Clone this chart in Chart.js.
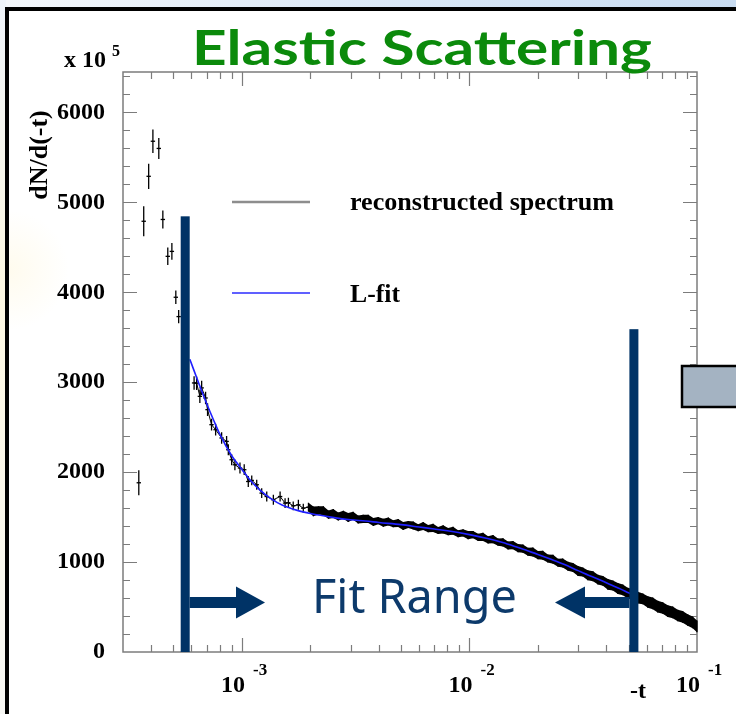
<!DOCTYPE html>
<html>
<head>
<meta charset="utf-8">
<title>Elastic Scattering</title>
<script src="https://cdn.jsdelivr.net/npm/chart.js@4.4.0/dist/chart.umd.min.js"></script>
<style>
  html, body { margin: 0; padding: 0; background: #fff; }
  #wrap { position: relative; width: 736px; height: 714px; }
</style>
</head>
<body>
<div id="wrap"><canvas id="elastic" width="736" height="714"></canvas></div>
<script>
// tick values
const yTickValues = [0, 1000, 2000, 3000, 4000, 5000, 6000];
const xTickValues = [1e-3, 1e-2, 1e-1];
const xTickExps = ['-3', '-2', '-1'];

// sparse points below the fit range (-t, counts in units of 10^5, error)
const preX   = [3.52e-4, 3.70e-4, 3.89e-4, 4.06e-4, 4.31e-4, 4.49e-4, 4.72e-4, 4.92e-4, 5.12e-4, 5.27e-4];
const preY   = [1882, 4790, 5290, 5680, 5600, 4810, 4400, 4455, 3945, 3730];
const preErr = [140, 167, 140, 130, 117, 100, 97, 93, 74, 74];

// reconstructed spectrum
const specX = [
  6.16e-4, 6.32e-4, 6.53e-4, 6.65e-4, 6.92e-4, 7.06e-4, 7.35e-4, 7.66e-4, 8.14e-4, 8.56e-4,
  8.71e-4, 9.01e-4, 9.31e-4, 9.80e-4, 1.023e-3, 1.066e-3, 1.104e-3, 1.161e-3, 1.221e-3, 1.285e-3,
  1.374e-3, 1.471e-3, 1.547e-3,
  1.60e-3, 1.68e-3, 1.77e-3, 1.86e-3, 1.96e-3, 2.06e-3, 2.17e-3, 2.28e-3, 2.40e-3, 2.52e-3,
  2.65e-3, 2.79e-3, 2.93e-3, 3.08e-3, 3.24e-3, 3.41e-3, 3.59e-3, 3.78e-3, 3.97e-3, 4.18e-3,
  4.40e-3, 4.62e-3, 4.86e-3, 5.11e-3, 5.38e-3, 5.66e-3, 5.95e-3, 6.26e-3, 6.58e-3, 6.92e-3,
  7.28e-3, 7.66e-3, 8.06e-3, 8.47e-3, 8.91e-3, 9.37e-3, 9.86e-3, 1.037e-2, 1.091e-2, 1.147e-2,
  1.207e-2, 1.269e-2, 1.335e-2, 1.404e-2, 1.477e-2, 1.553e-2, 1.634e-2, 1.718e-2, 1.807e-2, 1.901e-2,
  2.00e-2, 2.10e-2, 2.21e-2, 2.33e-2, 2.45e-2, 2.57e-2, 2.71e-2, 2.85e-2, 3.00e-2, 3.15e-2,
  3.31e-2, 3.49e-2, 3.67e-2, 3.86e-2, 4.06e-2, 4.27e-2, 4.49e-2, 4.72e-2, 4.96e-2, 5.22e-2,
  5.49e-2, 5.78e-2, 6.08e-2, 6.39e-2, 6.72e-2, 7.07e-2, 7.44e-2, 7.82e-2, 8.23e-2, 8.65e-2,
  9.10e-2, 9.57e-2, 1.00e-1
];
const specY = [
  2992, 2990, 2843, 2937, 2825, 2695, 2528, 2472, 2380, 2342,
  2249, 2138, 2082, 2046, 2027, 1896, 1908, 1860, 1767, 1729,
  1693, 1729, 1656,
  1660, 1625, 1637, 1599, 1611, 1564, 1575, 1572, 1528, 1540,
  1506, 1527, 1497, 1515, 1473, 1480, 1480, 1446, 1462, 1437,
  1451, 1426, 1435, 1402, 1418, 1407, 1382, 1402, 1372, 1380,
  1351, 1364, 1339, 1348, 1315, 1324, 1300, 1306, 1274, 1280,
  1246, 1255, 1222, 1219, 1184, 1189, 1155, 1150, 1115, 1111,
  1077, 1075, 1039, 1031, 993, 989, 954, 941, 900, 890,
  854, 843, 805, 791, 752, 740, 706, 691, 655, 640,
  604, 590, 556, 541, 505, 489, 454, 440, 406, 391,
  356, 330, 285
];
const specErr = [
  75, 75, 75, 80, 70, 70, 65, 65, 65, 60,
  60, 60, 60, 60, 60, 60, 55, 55, 55, 55,
  55, 55, 55,
  55, 50, 55, 50, 50, 55, 45, 50, 45, 50,
  45, 45, 50, 45, 45, 45, 45, 45, 40, 45,
  45, 40, 45, 45, 40, 45, 40, 45, 40, 45,
  40, 45, 40, 45, 40, 40, 45, 40, 40, 45,
  40, 45, 40, 45, 45, 45, 45, 45, 45, 50,
  45, 50, 45, 50, 45, 50, 50, 50, 55, 50,
  55, 55, 55, 55, 60, 55, 60, 60, 60, 60,
  65, 60, 65, 65, 65, 65, 65, 65, 65, 65,
  65, 65, 65
];

// L-fit curve
const fitX = [5.9e-4, 6.5e-4, 7.0e-4, 7.5e-4, 8.0e-4, 9.0e-4, 1.0e-3, 1.1e-3, 1.2e-3, 1.35e-3,
              1.5e-3, 1.75e-3, 2.0e-3, 2.5e-3, 3.0e-3, 3.5e-3, 4.0e-3, 5.0e-3, 6.0e-3, 7.0e-3,
              8.0e-3, 1.0e-2, 1.2e-2, 1.4e-2, 1.6e-2, 1.8e-2, 2.0e-2, 2.3e-2, 2.6e-2, 3.0e-2,
              3.4e-2, 3.8e-2, 4.2e-2, 4.6e-2, 5.0e-2, 5.3e-2];
const fitY = [3255, 2970, 2760, 2580, 2420, 2185, 2030, 1895, 1800, 1700,
              1635, 1575, 1540, 1497, 1470, 1456, 1440, 1416, 1390, 1368,
              1348, 1305, 1262, 1218, 1170, 1125, 1085, 1028, 975, 905,
              845, 795, 745, 702, 658, 628];

// fit range limits (-t) and how high the marker bars reach
const fitLow = 5.63e-4;
const fitHigh = 5.28e-2;
const fitBarTop = [4845, 3590];

const navy = '#003366';
const serif = '"Liberation Serif", "Times New Roman", serif';

function pts(xs, ys) {
  return xs.map((v, i) => ({ x: v, y: ys[i] }));
}

// band only where the histogram bins merge into a solid trace
const bandStart = 1.9e-3;
const upper = [], lower = [];
specX.forEach((v, i) => {
  if (v < bandStart) return;
  upper.push({ x: v, y: specY[i] + specErr[i] });
  lower.push({ x: v, y: specY[i] - specErr[i] });
});

function fitText(ctx, text, x, y, width, font) {
  ctx.save();
  ctx.font = font;
  const w = ctx.measureText(text).width;
  ctx.translate(x, y);
  ctx.scale(width / w, 1);
  ctx.fillText(text, 0, 0);
  ctx.restore();
}

// slide background, frame and white panel
const backdrop = {
  id: 'backdrop',
  beforeDraw(chart) {
    const ctx = chart.ctx;
    ctx.save();
    const g = ctx.createLinearGradient(0, 0, 736, 0);
    g.addColorStop(0, '#f4f7fb');
    g.addColorStop(0.55, '#d9e7f6');
    g.addColorStop(1, '#c9dcf1');
    ctx.fillStyle = g;
    ctx.fillRect(0, 0, 736, 714);
    const gl = ctx.createLinearGradient(0, 0, 0, 714);
    gl.addColorStop(0, '#eef3fa');
    gl.addColorStop(0.4, '#fdf8e2');
    gl.addColorStop(1, '#f7f7f4');
    ctx.fillStyle = gl;
    ctx.fillRect(0, 0, 6, 714);
    ctx.fillStyle = '#000';
    ctx.fillRect(5, 7, 731, 4);
    ctx.fillRect(5, 7, 4, 707);
    ctx.fillStyle = '#fff';
    ctx.fillRect(9, 11, 727, 703);
    const glow = ctx.createRadialGradient(9, 270, 2, 9, 270, 60);
    glow.addColorStop(0, 'rgba(255,238,180,0.22)');
    glow.addColorStop(1, 'rgba(255,238,180,0)');
    ctx.fillStyle = glow;
    ctx.fillRect(9, 200, 70, 140);
    ctx.restore();
  }
};

// ROOT style frame with inward ticks
const frame = {
  id: 'frame',
  beforeDatasetsDraw(chart) {
    const { ctx, chartArea: a, scales: { x, y } } = chart;
    ctx.save();
    ctx.strokeStyle = '#7c7c7c';
    ctx.lineWidth = 1.5;
    ctx.strokeRect(a.left, a.top, a.right - a.left, a.bottom - a.top);
    ctx.lineWidth = 1.2;
    ctx.beginPath();
    for (let v = 200; v < 6450; v += 200) {
      const py = Math.round(y.getPixelForValue(v)) + 0.5;
      const len = v % 1000 === 0 ? 14 : 7;
      ctx.moveTo(a.left, py); ctx.lineTo(a.left + len, py);
      ctx.moveTo(a.right, py); ctx.lineTo(a.right - len, py);
    }
    for (let e = -4; e <= -2; e++) {
      for (let m = 1; m <= 9; m++) {
        const v = m * Math.pow(10, e);
        if (v < 3.01e-4 || v > 0.0999) continue;
        const px = Math.round(x.getPixelForValue(v)) + 0.5;
        const len = m === 1 ? 14 : 7;
        ctx.moveTo(px, a.bottom); ctx.lineTo(px, a.bottom - len);
        ctx.moveTo(px, a.top); ctx.lineTo(px, a.top + len);
      }
    }
    ctx.stroke();
    ctx.restore();
  }
};

// vertical error bars for datasets that carry an errors array
const errorBars = {
  id: 'errorBars',
  afterDatasetDraw(chart, args) {
    const ds = chart.data.datasets[args.index];
    if (!ds.errors) return;
    const { ctx, scales: { y } } = chart;
    ctx.save();
    ctx.strokeStyle = '#000';
    ctx.lineWidth = ds.errWidth || 1.3;
    ctx.beginPath();
    args.meta.data.forEach((el, i) => {
      const p = ds.data[i];
      ctx.moveTo(el.x, y.getPixelForValue(p.y + ds.errors[i]));
      ctx.lineTo(el.x, y.getPixelForValue(p.y - ds.errors[i]));
    });
    ctx.stroke();
    ctx.restore();
  }
};

// texts, legend, fit range markers
const overlay = {
  id: 'overlay',
  afterDraw(chart) {
    const { ctx, chartArea: a, scales: { x, y } } = chart;
    ctx.save();

    // x tick labels 10^n
    ctx.fillStyle = '#000';
    xTickValues.forEach((v, i) => {
      const px = x.getPixelForValue(v);
      ctx.font = 'bold 24px ' + serif;
      ctx.textAlign = 'right';
      ctx.textBaseline = 'alphabetic';
      ctx.fillText('10', px + 3, 692);
      ctx.font = 'bold 17px ' + serif;
      ctx.textAlign = 'left';
      ctx.fillText(xTickExps[i], px + 11, 675);
    });
    ctx.font = 'bold 24px ' + serif;
    ctx.textAlign = 'left';
    ctx.fillText('-t', 630, 698);

    // y multiplier and title
    ctx.textAlign = 'right';
    ctx.fillText('x 10', 106, 67);
    ctx.font = 'bold 16px ' + serif;
    ctx.textAlign = 'left';
    ctx.fillText('5', 112, 56);
    ctx.save();
    ctx.translate(47, 155);
    ctx.rotate(-Math.PI / 2);
    ctx.font = 'bold 26px ' + serif;
    ctx.textAlign = 'center';
    ctx.fillText('dN/d(-t)', 0, 0);
    ctx.restore();

    // legend
    ctx.lineWidth = 2.5;
    ctx.strokeStyle = '#8d8d8d';
    ctx.beginPath(); ctx.moveTo(232, 202); ctx.lineTo(310, 202); ctx.stroke();
    ctx.lineWidth = 1.6;
    ctx.strokeStyle = '#2b2bff';
    ctx.beginPath(); ctx.moveTo(232, 293); ctx.lineTo(310, 293); ctx.stroke();
    ctx.textAlign = 'left';
    fitText(ctx, 'reconstructed spectrum', 350, 210, 264, 'bold 25px ' + serif);
    fitText(ctx, 'L-fit', 350, 302, 50, 'bold 25px ' + serif);

    // fit range bars and arrows
    ctx.fillStyle = navy;
    const xl = x.getPixelForValue(fitLow), xr = x.getPixelForValue(fitHigh);
    const yl = y.getPixelForValue(fitBarTop[0]), yr = y.getPixelForValue(fitBarTop[1]);
    ctx.fillRect(xl - 4.5, yl, 9, a.bottom - yl);
    ctx.fillRect(xr - 4.5, yr, 9, a.bottom - yr);
    const ay = 602.5;
    ctx.fillRect(xl + 4.5, ay - 5.5, 236 - xl - 4.5, 11);
    ctx.beginPath(); ctx.moveTo(236, ay - 16); ctx.lineTo(265, ay); ctx.lineTo(236, ay + 16); ctx.closePath(); ctx.fill();
    ctx.fillRect(585, ay - 5.5, xr - 4.5 - 585, 11);
    ctx.beginPath(); ctx.moveTo(585, ay - 16); ctx.lineTo(555, ay); ctx.lineTo(585, ay + 16); ctx.closePath(); ctx.fill();

    ctx.fillStyle = '#0d3a6b';
    fitText(ctx, 'Fit Range', 312, 613, 205, '48px "Comic Sans MS", "Noto Sans", sans-serif');

    // title
    ctx.fillStyle = '#0b8a0b';
    fitText(ctx, 'Elastic Scattering', 192, 65, 460, 'bold 48px "Comic Sans MS", Lato, sans-serif');

    // grey box at the right edge
    ctx.fillStyle = '#a4b3c2';
    ctx.strokeStyle = '#000';
    ctx.lineWidth = 2.5;
    ctx.fillRect(682, 366, 60, 41);
    ctx.strokeRect(682, 366, 60, 41);

    ctx.restore();
  }
};

const ctx = document.getElementById('elastic').getContext('2d');
const chart = new Chart(ctx, {
  type: 'scatter',
  data: {
    datasets: [
      {
        label: 'L-fit',
        data: pts(fitX, fitY),
        showLine: true,
        borderColor: '#2020ff',
        borderWidth: 1.6,
        pointRadius: 0,
        cubicInterpolationMode: 'monotone',
        order: 0
      },
      {
        label: 'reconstructed spectrum',
        data: pts(specX, specY),
        errors: specErr,
        errWidth: 1.3,
        showLine: true,
        borderColor: '#000',
        borderWidth: 1,
        pointStyle: 'line',
        pointRadius: 2.2,
        pointBorderWidth: 1.3,
        pointBorderColor: '#000',
        order: 1
      },
      {
        label: 'band upper',
        data: upper,
        showLine: true,
        borderWidth: 0,
        borderColor: 'rgba(0,0,0,0)',
        pointRadius: 0,
        fill: false,
        order: 3
      },
      {
        label: 'band lower',
        data: lower,
        showLine: true,
        borderWidth: 0,
        borderColor: 'rgba(0,0,0,0)',
        backgroundColor: '#000',
        pointRadius: 0,
        fill: '-1',
        order: 2
      },
      {
        label: 'below fit range',
        data: pts(preX, preY),
        errors: preErr,
        errWidth: 1.3,
        showLine: false,
        pointStyle: 'line',
        pointRadius: 2.2,
        pointBorderWidth: 1.3,
        pointBorderColor: '#000',
        order: 1
      }
    ]
  },
  options: {
    responsive: false,
    devicePixelRatio: 1,
    animation: false,
    layout: { padding: { left: 0, right: 39, top: 72, bottom: 0 } },
    plugins: {
      legend: { display: false },
      tooltip: { enabled: false }
    },
    scales: {
      x: {
        type: 'logarithmic',
        min: 3e-4,
        max: 0.1,
        ticks: { display: false },
        grid: { display: false, drawTicks: false },
        border: { display: false },
        afterFit(s) { s.height = 62; }
      },
      y: {
        min: 0,
        max: 6450,
        afterBuildTicks(s) { s.ticks = yTickValues.map(v => ({ value: v })); },
        ticks: {
          color: '#000',
          padding: 18,
          font: { family: serif, weight: 'bold', size: 24 },
          callback: v => String(v)
        },
        grid: { display: false, drawTicks: false },
        border: { display: false },
        afterFit(s) { s.width = 123; }
      }
    }
  },
  plugins: [backdrop, frame, errorBars, overlay]
});
</script>
</body>
</html>
